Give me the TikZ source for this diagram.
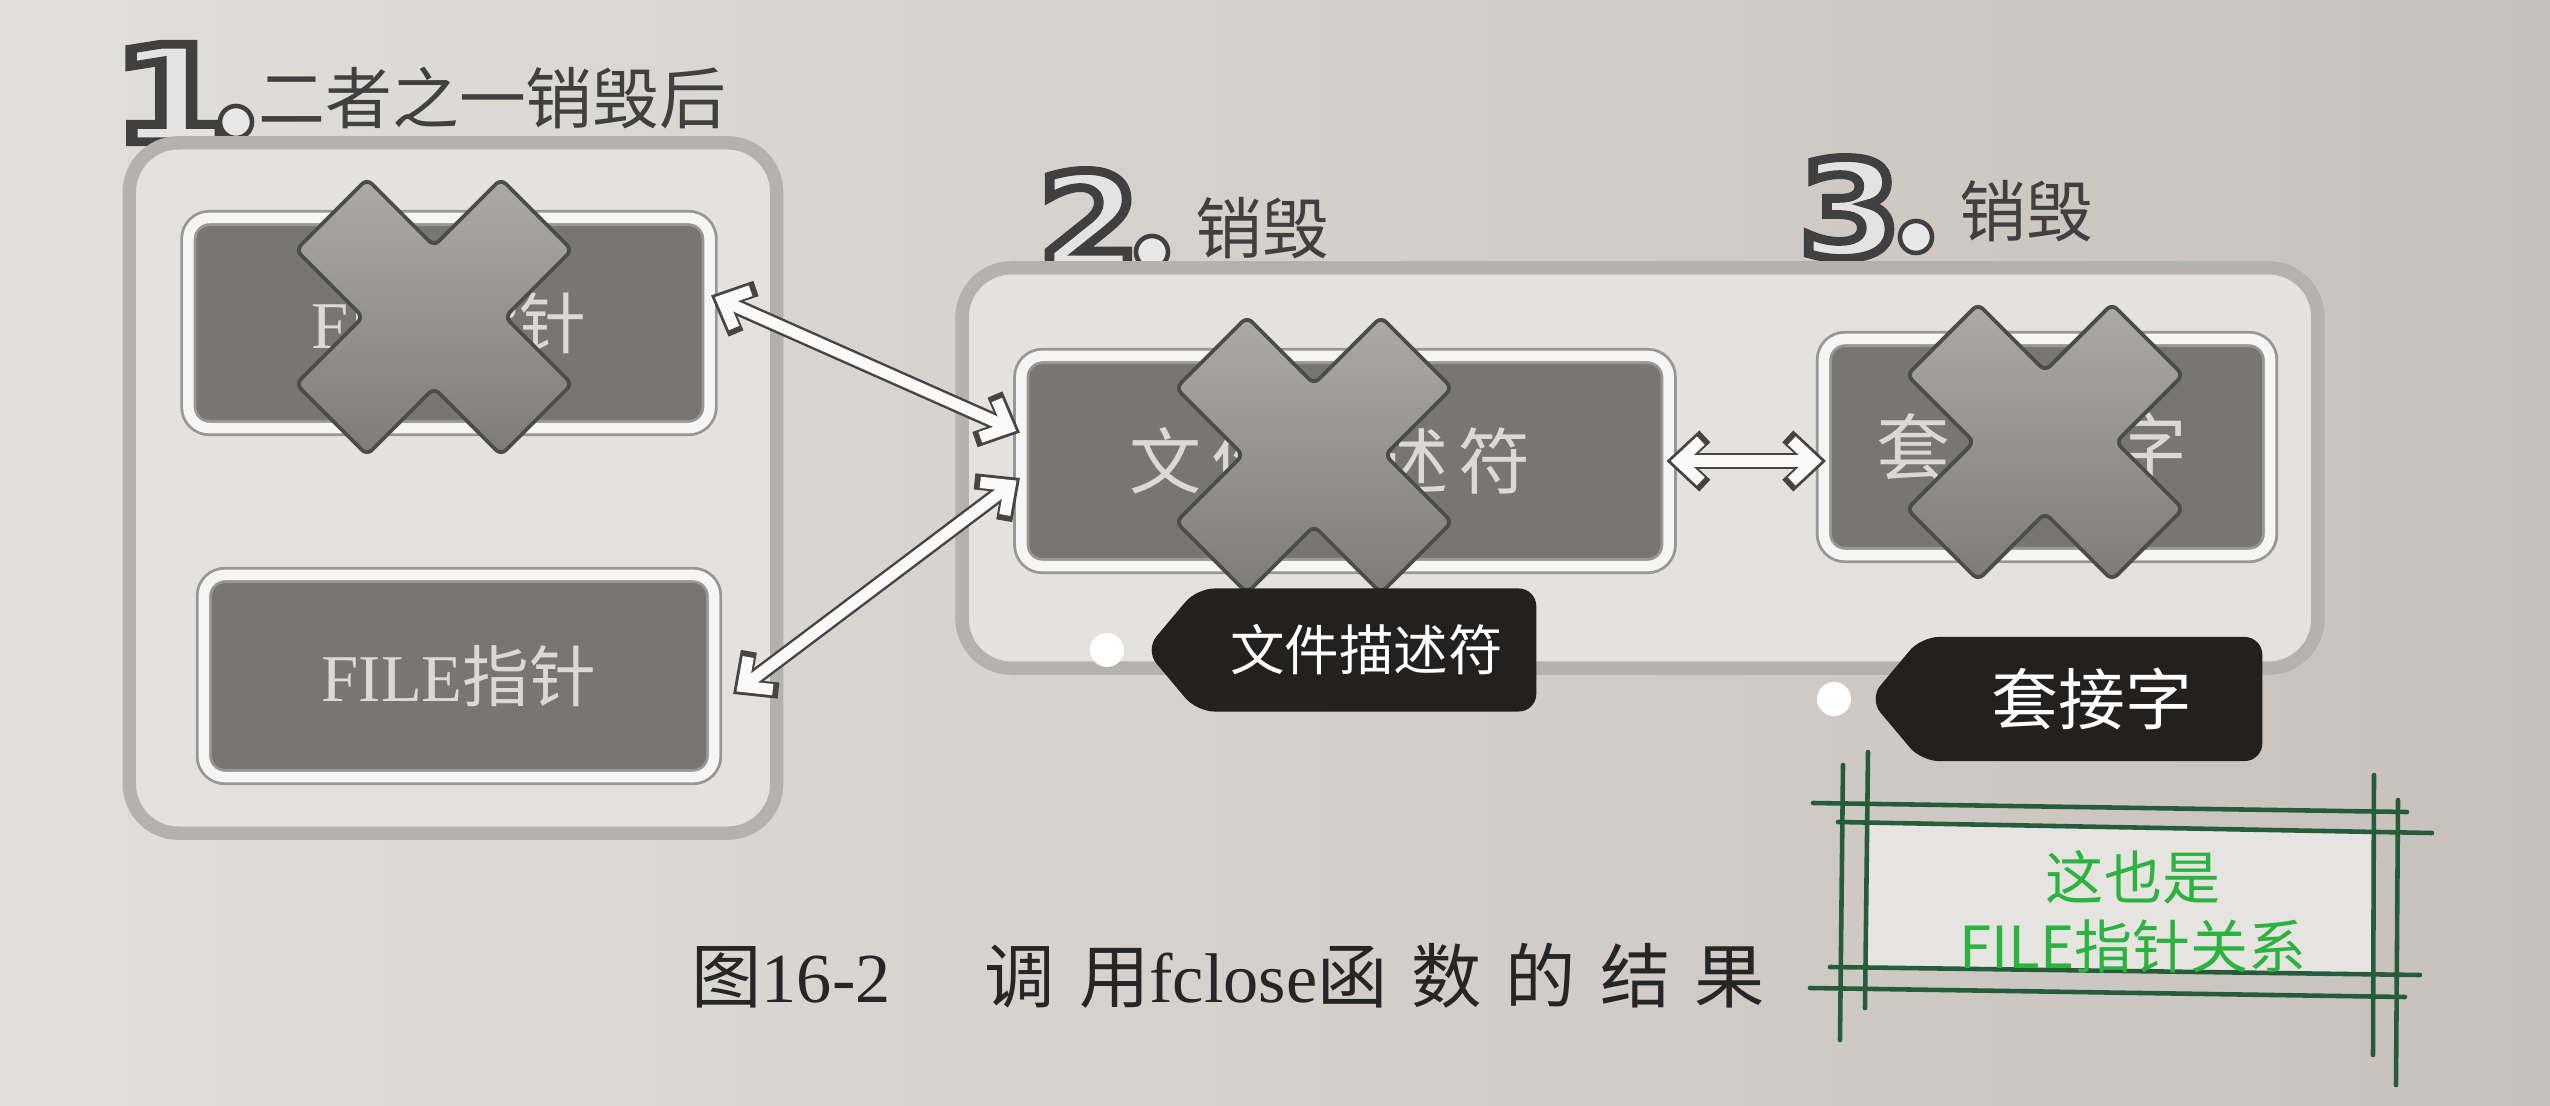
\documentclass[tikz,border=0pt]{standalone}
\usepackage{fontspec}
\setmainfont{Liberation Serif}
\newfontfamily\cjk{Noto Sans CJK SC}
\newfontfamily\cjkwide{Noto Sans CJK SC}[LetterSpace=14]
\newfontfamily\cjkcap{Noto Sans CJK SC}[LetterSpace=34]
\newfontfamily\numfont{DejaVu Sans}
\usepackage{xcolor}
\usetikzlibrary{shapes, arrows.meta, positioning}

\definecolor{paperL}{RGB}{224,223,220}
\definecolor{paperR}{RGB}{200,193,187}
\definecolor{frameout}{RGB}{180,178,175}
\definecolor{framein}{RGB}{227,226,223}
\definecolor{boxdark}{RGB}{120,118,115}
\definecolor{boxtext}{RGB}{218,217,215}
\definecolor{crossA}{RGB}{172,170,166}
\definecolor{crossB}{RGB}{126,124,120}
\definecolor{tagblack}{RGB}{34,33,32}
\definecolor{notegreen}{RGB}{44,178,62}
\definecolor{noteline}{RGB}{38,92,58}
\definecolor{notefill}{RGB}{229,228,225}
\definecolor{linkline}{RGB}{70,69,67}

\newcommand{\hollow}[1]{\special{pdf:literal direct 2 Tr 2.5 w 0.25 G}#1\special{pdf:literal direct 0 Tr}}

\tikzset{
  outerbox/.style={draw=frameout, line width=3.8pt, fill=framein, rounded corners=14pt},
  innerbox/.style={draw=frameout!85!black, line width=0.8pt, double=white!92!gray, double distance=3pt,
    fill=boxdark, rounded corners=6pt, text=boxtext, inner sep=0pt},
  numtext/.style={font=\numfont\bfseries\fontsize{38}{38}\selectfont, text=gray!22, inner sep=0pt},
  numdot/.style={circle, draw=black!75, line width=1.3pt, fill=gray!18, minimum size=0.32cm, inner sep=0pt},
  headtext/.style={font=\cjk\fontsize{19}{19}\selectfont, text=black!75, inner sep=0pt, anchor=west},
  linkout/.style={draw=linkline, line width=4.6pt,
    {Straight Barb[sharp, length=7.5pt, width=14pt]}-{Straight Barb[sharp, length=7.5pt, width=14pt]}},
  linkin/.style={draw=white!96!gray, line width=3.2pt, shorten <=1.2pt, shorten >=1.2pt,
    {Straight Barb[sharp, length=6.2pt, width=11.6pt]}-{Straight Barb[sharp, length=6.2pt, width=11.6pt]}},
  calltag/.style={signal, signal to=west, signal pointer angle=100, fill=tagblack, text=white,
    rounded corners=5pt, anchor=east, inner sep=0pt},
  dotmark/.style={circle, fill=white, minimum size=0.34cm, inner sep=0pt},
  noteframe/.style={draw=noteline, line width=1.3pt, line cap=round},
  notetext/.style={font=\cjk\fontsize{16.5}{19.5}\selectfont, text=notegreen, align=center, inner sep=0pt},
  cross/.pic={
    \draw[draw=black!70, line width=1.1pt, top color=crossA, bottom color=crossB, rounded corners=2pt]
      (0,-71) -- (67,-138) -- (138,-67) -- (71,0) -- (138,67) -- (67,138) -- (0,71)
      -- (-67,138) -- (-138,67) -- (-71,0) -- (-138,-67) -- (-67,-138) -- cycle;
  }
}

\begin{document}
\begin{tikzpicture}[x=0.01cm, y=-0.01cm]
  \shade[left color=paperL, right color=paperR] (0,0) rectangle (2550,1106);
  \useasboundingbox (0,0) rectangle (2550,1106);

  \node[numtext, xscale=1.3] (n1) at (172,93) {\hollow{1}};
  \node[numdot] (o1) at (236,122) {};
  \node[headtext] (t1) at (258,98) {二者之一销毁后};
  \node[numtext, xscale=1.1] (n2) at (1089,220) {\hollow{2}};
  \node[numdot] (o2) at (1152,252) {};
  \node[headtext] (t2) at (1195,228) {销毁};
  \node[numtext, xscale=1.1] (n3) at (1850,208) {\hollow{3}};
  \node[numdot] (o3) at (1916,237) {};
  \node[headtext] (t3) at (1959,211) {销毁};

  \node[outerbox, minimum width=6.47cm, minimum height=6.9cm] (g1) at (453,488) {};
  \node[outerbox, minimum width=13.55cm, minimum height=4.0cm] (g2) at (1640,468) {};

  \node[innerbox, minimum width=5.21cm, minimum height=2.1cm, font=\fontsize{19}{19}\selectfont] (fp1) at (449,323) {FILE{\cjk 指针}};
  \node[innerbox, minimum width=5.1cm, minimum height=2.02cm, font=\fontsize{19}{19}\selectfont] (fp2) at (459,676) {FILE{\cjk 指针}};
  \node[innerbox, minimum width=6.47cm, minimum height=2.1cm, font=\cjkwide\fontsize{20.5}{20.5}\selectfont] (fd) at (1345,461) {\hspace{-0.3cm}文件描述符};
  \node[innerbox, minimum width=4.46cm, minimum height=2.16cm, font=\cjk\fontsize{21}{21}\selectfont] (sk) at (2047,447) {\hspace{-0.3cm}套\hspace{0.6em}接\hspace{0.6em}字};

  \foreach \st in {linkout, linkin} {
    \draw[\st] (fp1.6) -- (fd.175);
    \draw[\st] ([xshift=5pt]fp2.-4) -- (fd.183);
    \draw[\st] ([xshift=-1pt]fd.east) -- ([xshift=1pt]fd.east -| sk.west);
  }

  \pic (x1) at (434,317) {cross};
  \pic (x2) at (1314,455) {cross};
  \pic (x3) at (2045,442) {cross};

  \node[calltag, minimum width=3.91cm, minimum height=1.23cm, font=\cjk\fontsize{15.5}{15.5}\selectfont] (c1) at (1537,650) {文件描述符};
  \node[dotmark] (d1) at (1107,650) {};
  \node[calltag, minimum width=3.93cm, minimum height=1.24cm, font=\cjk\fontsize{19}{19}\selectfont] (c2) at (2263,699) {套接字};
  \node[dotmark] (d2) at (1834,699) {};

  \fill[notefill] (1868,823) -- (2374,831) -- (2373,974) -- (1866,967) -- cycle;
  \draw[noteframe] (1813,803) -- (2407,812);
  \draw[noteframe] (1838,822) -- (2432,833);
  \draw[noteframe] (1830,967) -- (2420,975);
  \draw[noteframe] (1810,988) -- (2405,997);
  \draw[noteframe] (1843,765) -- (1840,1040);
  \draw[noteframe] (1868,752) -- (1865,1008);
  \draw[noteframe] (2374,775) -- (2373,1055);
  \draw[noteframe] (2398,800) -- (2396,1085);
  \node[notetext] (nt) at (2133,912) {这也是\\FILE指针关系};

  \node[font=\fontsize{20}{20}\selectfont, text=black!85, inner sep=0pt] (cap) at (1228,976)
    {{\cjkcap 图}16-2{\cjkcap 　调用}fclose{\cjkcap 函数的结果}};
\end{tikzpicture}
\end{document}
